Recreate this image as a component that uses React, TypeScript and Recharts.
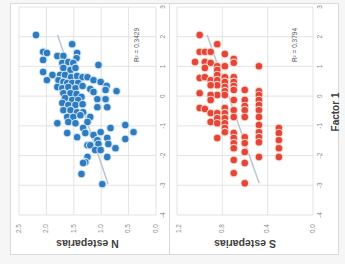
import { CartesianGrid, ReferenceLine, Scatter, ScatterChart, XAxis, YAxis } from "recharts";

// Factor 1 score (x) and log-transformed counts (y)
const nFactor = [
  2.06, 1.75, 1.49, 1.45, 1.22, 1.35, 1.35, 1.45, 1.28, 1.12, 1.15, 1.12, 1.05, 0.81, 0.71, 0.54, 0.95, 0.88,
  0.95, 0.71, 0.71, 0.64, 0.68, 0.64, 0.64, 0.54, 0.48, 0.34, 0.54, 0.48, 0.44, 0.44, 0.44, 0.31, 0.27, 0.31,
  0.27, 0.34, 0.24, 0.14, 0.21, 0.17, 0.1, 0.1, 0.07, -0.03, -0.06, -0.13, -0.13, -0.1, -0.1, -0.37, -0.23,
  -0.3, -0.3, -0.27, -0.37, -0.47, -0.47, -0.54, -0.54, -0.7, -0.7, -0.64, -0.7, -0.87, -0.91, -0.87, -0.91,
  -1.07, -1.24, -0.97, -1.07, -1.21, -1.44, -1.24, -1.38, -1.31, -1.21, -1.48, -1.41, -1.61, -1.65, -1.65,
  -1.61, -1.81, -1.81, -1.75, -2.05, -2.22, -2.25, -2.05, -2.62, -2.96,
];
const nValue = [
  2.19, 1.53, 2.06, 1.99, 2.06, 1.8, 1.69, 1.44, 1.45, 1.71, 1.6, 1.51, 1.05, 2.06, 1.89, 1.99, 1.69, 1.56,
  1.47, 1.75, 1.66, 1.55, 1.44, 1.34, 1.25, 1.14, 1.01, 0.9, 1.78, 1.69, 1.62, 1.53, 1.42, 1.8, 1.71, 1.6,
  1.47, 1.34, 1.2, 1.14, 0.92, 0.72, 1.69, 1.56, 1.45, 1.36, 1.66, 1.53, 1.42, 1.07, 0.92, 0.89, 1.71, 1.6,
  1.47, 1.34, 1.07, 1.69, 1.56, 1.44, 1.33, 1.62, 1.51, 1.38, 1.2, 1.25, 1.8, 1.6, 1.47, 1.33, 1.29, 0.56,
  0.83, 0.41, 0.56, 1.62, 1.44, 1.14, 1.01, 1.07, 0.89, 0.87, 1.25, 1.2, 1.05, 1.11, 1.01, 0.74, 1.25, 1.29,
  1.33, 0.89, 1.36, 0.98,
];

const sFactor = [
  2.06, 1.75, 1.49, 1.49, 1.49, 1.42, 1.15, 1.15, 1.12, 1.25, 1.12, 1.01, 0.88, 1.01, 1.01, 0.95, 0.61, 0.64,
  0.54, 0.71, 0.54, 0.37, 0.64, 0.48, 0.31, 0.17, 0.64, 0.48, 0.34, 0.21, 0.37, 0.1, 0.04, 0.21, 0.17, 0.04,
  0.04, -0.13, 0.04, -0.13, -0.13, -0.33, -0.13, -0.3, -0.4, -0.43, -0.57, -0.87, -0.57, -0.74, -0.91, -0.4,
  -0.57, -0.74, -0.91, -1.07, -1.21, -0.47, -0.7, -0.47, -0.7, -0.47, -0.7, -0.97, -1.21, -1.38, -1.55,
  -1.07, -1.24, -1.48, -1.75, -2.05, -1.41, -1.24, -1.41, -1.58, -1.75, -1.38, -1.58, -1.88, -2.15, -2.59,
  -2.25, -2.05, -2.93,
];
const sValue = [
  1.0, 0.845, 1.0, 0.954, 0.903, 0.778, 1.041, 0.954, 0.903, 0.699, 0.699, 0.845, 0.845, 0.778, 0.477, 0.954,
  1.0, 0.954, 0.903, 0.845, 0.845, 0.845, 0.778, 0.778, 0.778, 0.778, 0.699, 0.699, 0.699, 0.699, 0.903, 1.0,
  0.845, 0.602, 0.477, 0.477, 0.903, 0.903, 0.778, 0.699, 0.602, 0.602, 0.477, 0.477, 1.0, 0.954, 0.903,
  0.903, 0.845, 0.845, 0.845, 0.778, 0.778, 0.778, 0.778, 0.778, 0.778, 0.699, 0.699, 0.602, 0.602, 0.477,
  0.477, 0.477, 0.477, 0.477, 0.477, 0.301, 0.301, 0.301, 0.301, 0.301, 0.845, 0.699, 0.699, 0.699, 0.699,
  0.602, 0.602, 0.602, 0.699, 0.699, 0.602, 0.477, 0.602,
];

const factorTicks = [-4, -3, -2, -1, 0, 1, 2, 3];
const nTicks = [0, 0.5, 1, 1.5, 2, 2.5];
const sTicks = [0, 0.2, 0.4, 0.6, 0.8, 1, 1.2];

const nPoints = nFactor.map((f, i) => ({ f, v: nValue[i] }));
const sPoints = sFactor.map((f, i) => ({ f, v: sValue[i] }));

// linear trendline like excel's
function trend(xs: number[], ys: number[]) {
  const n = xs.length;
  const mx = xs.reduce((a, b) => a + b, 0) / n;
  const my = ys.reduce((a, b) => a + b, 0) / n;
  let sxy = 0;
  let sxx = 0;
  xs.forEach((x, i) => {
    sxy += (x - mx) * (ys[i] - my);
    sxx += (x - mx) * (x - mx);
  });
  const b = sxy / sxx;
  const a = my - b * mx;
  const x0 = Math.min(...xs);
  const x1 = Math.max(...xs);
  return [
    { x: x0, y: a + b * x0 },
    { x: x1, y: a + b * x1 },
  ];
}

const font = "'Liberation Sans', Arial, sans-serif";
const tickColor = "#8a8a8a";
const gridColor = "#dcdcdc";

const FactorTick = ({ x, y, payload }: any) => (
  <text x={x} y={y + 7} textAnchor="middle" dominantBaseline="middle" fontSize={6.5} fill={tickColor} fontFamily={font}>
    {payload.value}
  </text>
);

const ValueTick = ({ x, y, payload }: any) => (
  <text x={x - 1} y={y} textAnchor="end" dominantBaseline="middle" fontSize={6.5} fill={tickColor} fontFamily={font}>
    {Number(payload.value).toFixed(1)}
  </text>
);

const dot = (fill: string, halo: string) => (p: any) => (
  <g>
    <circle cx={p.cx} cy={p.cy} r={4.3} fill={halo} />
    <circle cx={p.cx} cy={p.cy} r={3.2} fill={fill} />
  </g>
);

function Panel({
  points,
  ticks,
  top,
  r2,
  title,
  color,
  halo,
  last,
}: {
  points: { f: number; v: number }[];
  ticks: number[];
  top: number;
  r2: string;
  title: string;
  color: string;
  halo: string;
  last?: boolean;
}) {
  const seg = trend(
    points.map((p) => p.f),
    points.map((p) => p.v)
  );
  const height = last ? 175 : 170;
  return (
    <div style={{ position: "absolute", left: 0, top, width: 264, height }}>
      <ScatterChart
        width={264}
        height={height}
        margin={{ top: last ? 7 : 19, right: 7, bottom: last ? 22 : 4, left: 0 }}
      >
        <CartesianGrid stroke={gridColor} strokeWidth={0.8} />
        <XAxis
          type="number"
          dataKey="f"
          domain={[-4, 3]}
          ticks={factorTicks}
          axisLine={false}
          tickLine={false}
          tickSize={0}
          tickMargin={0}
          height={10}
          tick={<FactorTick />}
          label={
            last
              ? {
                  content: () => (
                    <text x={152} y={166} textAnchor="middle" dominantBaseline="middle" fontSize={10} fontWeight="bold" fill="#404040" fontFamily={font}>
                      Factor 1
                    </text>
                  ),
                }
              : undefined
          }
        />
        <YAxis
          type="number"
          dataKey="v"
          domain={[ticks[0], ticks[ticks.length - 1]]}
          ticks={ticks}
          axisLine={false}
          tickLine={false}
          width={49}
          tick={<ValueTick />}
          label={{
            content: (p: any) => {
              const vb = p.viewBox || { x: 0, y: 19, width: 49, height: 137 };
              const cy = vb.y + vb.height / 2;
              return (
                <text x={21} y={cy} transform={`rotate(-90 21 ${cy})`} textAnchor="middle" dominantBaseline="middle" fontSize={10.5} fontWeight="bold" fill="#404040" fontFamily={font}>
                  {title}
                </text>
              );
            },
          }}
        />
        <ReferenceLine
          segment={seg}
          stroke="#bcc6d0"
          strokeWidth={1.5}
          ifOverflow="visible"
          label={{
            content: () => (
              <text x={219} y={last ? 125 : 137} textAnchor="middle" dominantBaseline="middle" fontSize={6.5} fill="#595959" fontFamily={font}>
                {r2}
              </text>
            ),
          }}
        />
        <Scatter data={points} fill={color} shape={dot(color, halo)} isAnimationActive={false} />
      </ScatterChart>
    </div>
  );
}

export default function App() {
  return (
    <div style={{ position: "fixed", left: 0, top: 0, width: 345, height: 264, overflow: "hidden", background: "#f6f6f6" }}>
      <div
        style={{
          position: "absolute",
          left: 0,
          top: 0,
          width: 264,
          height: 345,
          transformOrigin: "0 0",
          transform: "translate(0px, 264px) rotate(-90deg)",
        }}
      >
        <div style={{ position: "absolute", left: 9, top: 10, width: 252, height: 160, background: "#fff", border: "1px solid #d9d9d9", boxSizing: "border-box" }} />
        <div style={{ position: "absolute", left: 9, top: 169, width: 252, height: 170, background: "#fff", border: "1px solid #d9d9d9", boxSizing: "border-box" }} />
        <Panel points={nPoints} ticks={nTicks} top={0} r2="R² = 0.3429" title="N esteparias" color="#2f7bbf" halo="#c9e2f6" />
        <Panel points={sPoints} ticks={sTicks} top={170} r2="R² = 0.3794" title="S esteparias" color="#e5443b" halo="#f8d3c0" last />
      </div>
    </div>
  );
}
